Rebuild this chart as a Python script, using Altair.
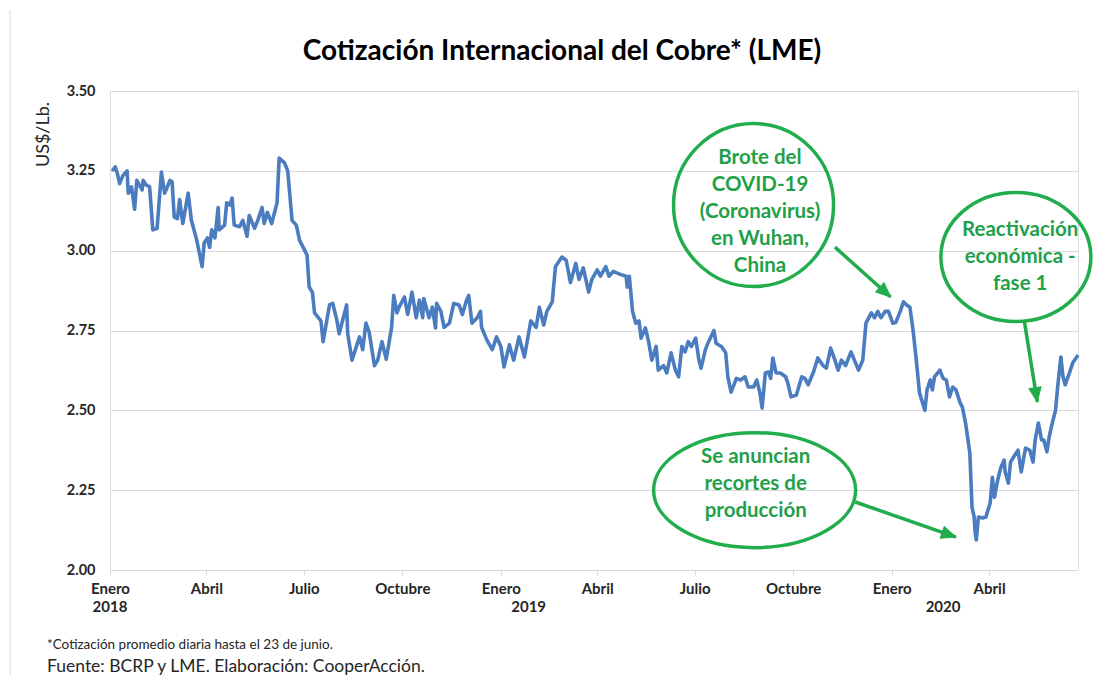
import altair as alt
import pandas as pd

# ---------------- data ----------------
dates = [
    "2018-01-03", "2018-01-06", "2018-01-08", "2018-01-10", "2018-01-13", "2018-01-17", "2018-01-18",
    "2018-01-21", "2018-01-24", "2018-01-26", "2018-01-31", "2018-02-01", "2018-02-04", "2018-02-07",
    "2018-02-10", "2018-02-14", "2018-02-18", "2018-02-21", "2018-02-26", "2018-02-28", "2018-03-02",
    "2018-03-05", "2018-03-07", "2018-03-10", "2018-03-15", "2018-03-18", "2018-03-23", "2018-03-28",
    "2018-03-30", "2018-04-02", "2018-04-04", "2018-04-06", "2018-04-09", "2018-04-12", "2018-04-13",
    "2018-04-18", "2018-04-20", "2018-04-23", "2018-04-25", "2018-04-27", "2018-05-02", "2018-05-05",
    "2018-05-09", "2018-05-11", "2018-05-16", "2018-05-19", "2018-05-23", "2018-05-25", "2018-05-28",
    "2018-06-01", "2018-06-06", "2018-06-08", "2018-06-13", "2018-06-16", "2018-06-20", "2018-06-24",
    "2018-06-27", "2018-07-04", "2018-07-06", "2018-07-09", "2018-07-11", "2018-07-17", "2018-07-19",
    "2018-07-25", "2018-07-28", "2018-08-01", "2018-08-03", "2018-08-10", "2018-08-11", "2018-08-15",
    "2018-08-22", "2018-08-25", "2018-08-28", "2018-08-31", "2018-09-05", "2018-09-08", "2018-09-12",
    "2018-09-16", "2018-09-21", "2018-09-23", "2018-09-26", "2018-09-28", "2018-10-03", "2018-10-06",
    "2018-10-10", "2018-10-14", "2018-10-17", "2018-10-20", "2018-10-21", "2018-10-26", "2018-10-29",
    "2018-11-01", "2018-11-02", "2018-11-06", "2018-11-09", "2018-11-14", "2018-11-18", "2018-11-23",
    "2018-11-26", "2018-11-30", "2018-12-02", "2018-12-05", "2018-12-10", "2018-12-13", "2018-12-14",
    "2018-12-19", "2018-12-24", "2018-12-28",
    "2019-01-01", "2019-01-04", "2019-01-09", "2019-01-13", "2019-01-18", "2019-01-23", "2019-01-29",
    "2019-02-03", "2019-02-06", "2019-02-10", "2019-02-13", "2019-02-18", "2019-02-21", "2019-02-24",
    "2019-02-27", "2019-03-03", "2019-03-07", "2019-03-12", "2019-03-15", "2019-03-19", "2019-03-24",
    "2019-03-27", "2019-04-01", "2019-04-04", "2019-04-09", "2019-04-12", "2019-04-16", "2019-04-23",
    "2019-04-28", "2019-04-29", "2019-05-01", "2019-05-04", "2019-05-07", "2019-05-10", "2019-05-12",
    "2019-05-16", "2019-05-19", "2019-05-22", "2019-05-26", "2019-05-28", "2019-06-02", "2019-06-05",
    "2019-06-09", "2019-06-13", "2019-06-16", "2019-06-19", "2019-06-22", "2019-06-25", "2019-06-28",
    "2019-07-02", "2019-07-05", "2019-07-07", "2019-07-11", "2019-07-14", "2019-07-19", "2019-07-21",
    "2019-07-26", "2019-07-30", "2019-08-01", "2019-08-04", "2019-08-09", "2019-08-13", "2019-08-17",
    "2019-08-20", "2019-08-25", "2019-08-28", "2019-08-31", "2019-09-02", "2019-09-05", "2019-09-08",
    "2019-09-10", "2019-09-12", "2019-09-15", "2019-09-19", "2019-09-24", "2019-09-26", "2019-09-29",
    "2019-10-04", "2019-10-09", "2019-10-12", "2019-10-15", "2019-10-20", "2019-10-24", "2019-10-29",
    "2019-11-01", "2019-11-05", "2019-11-09", "2019-11-12", "2019-11-15", "2019-11-19", "2019-11-24",
    "2019-11-28", "2019-12-01", "2019-12-05", "2019-12-08", "2019-12-13", "2019-12-16", "2019-12-19",
    "2019-12-22", "2019-12-26", "2019-12-29",
    "2020-01-02", "2020-01-05", "2020-01-09", "2020-01-12", "2020-01-15", "2020-01-18", "2020-01-21",
    "2020-01-24", "2020-01-27", "2020-02-01", "2020-02-03", "2020-02-06", "2020-02-08", "2020-02-10",
    "2020-02-15", "2020-02-18", "2020-02-21", "2020-02-24", "2020-02-27", "2020-03-01", "2020-03-05",
    "2020-03-07", "2020-03-10", "2020-03-14", "2020-03-16", "2020-03-18", "2020-03-19", "2020-03-20",
    "2020-03-22", "2020-03-26", "2020-03-29", "2020-04-02", "2020-04-04", "2020-04-06", "2020-04-09",
    "2020-04-12", "2020-04-15", "2020-04-16", "2020-04-19", "2020-04-21", "2020-04-25", "2020-04-28",
    "2020-05-01", "2020-05-05", "2020-05-09", "2020-05-12", "2020-05-14", "2020-05-17", "2020-05-20",
    "2020-05-22", "2020-05-25", "2020-05-27", "2020-05-30", "2020-06-02", "2020-06-04", "2020-06-07",
    "2020-06-09", "2020-06-11", "2020-06-15", "2020-06-18", "2020-06-23",
]
prices = [
    3.250, 3.262, 3.240, 3.210, 3.235, 3.250, 3.180,
    3.200, 3.130, 3.220, 3.190, 3.220, 3.205, 3.200,
    3.065, 3.070, 3.246, 3.180, 3.220, 3.215, 3.105,
    3.100, 3.160, 3.085, 3.180, 3.095, 3.033, 2.950,
    3.025, 3.040, 3.010, 3.065, 3.040, 3.135, 3.065,
    3.080, 3.150, 3.143, 3.165, 3.080, 3.075, 3.095,
    3.045, 3.110, 3.070, 3.095, 3.135, 3.085, 3.120,
    3.085, 3.150, 3.290, 3.275, 3.250, 3.095, 3.080,
    3.033, 2.986, 2.886, 2.870, 2.805, 2.780, 2.715,
    2.830, 2.835, 2.780, 2.740, 2.830, 2.740, 2.657,
    2.730, 2.690, 2.773, 2.745, 2.640, 2.657, 2.715,
    2.660, 2.760, 2.860, 2.805, 2.823, 2.855, 2.800,
    2.870, 2.790, 2.845, 2.790, 2.850, 2.790, 2.823,
    2.758, 2.835, 2.810, 2.760, 2.773, 2.835, 2.830,
    2.800, 2.845, 2.860, 2.773, 2.790, 2.810, 2.760,
    2.720, 2.690, 2.730,
    2.700, 2.636, 2.705, 2.657, 2.730, 2.667, 2.780,
    2.760, 2.823, 2.767, 2.810, 2.840, 2.950, 2.965,
    2.980, 2.970, 2.900, 2.960, 2.910, 2.946, 2.870,
    2.910, 2.940, 2.920, 2.950, 2.920, 2.935, 2.925,
    2.920, 2.886, 2.920, 2.810, 2.773, 2.780, 2.726,
    2.758, 2.715, 2.657, 2.700, 2.626, 2.640, 2.617,
    2.680, 2.626, 2.605, 2.700, 2.683, 2.715, 2.700,
    2.726, 2.657, 2.632, 2.690, 2.715, 2.750, 2.710,
    2.700, 2.680, 2.605, 2.557, 2.600, 2.595, 2.605,
    2.573, 2.573, 2.595, 2.554, 2.507, 2.617, 2.620,
    2.600, 2.664, 2.617, 2.617, 2.605, 2.585, 2.542,
    2.548, 2.605, 2.600, 2.580, 2.620, 2.664, 2.640,
    2.632, 2.695, 2.657, 2.626, 2.657, 2.640, 2.683,
    2.650, 2.626, 2.657, 2.773, 2.805, 2.790, 2.810,
    2.790, 2.810, 2.810,
    2.773, 2.776, 2.810, 2.840, 2.830, 2.823, 2.750,
    2.657, 2.554, 2.500, 2.564, 2.595, 2.564, 2.605,
    2.626, 2.600, 2.595, 2.542, 2.573, 2.564, 2.523,
    2.510, 2.460, 2.366, 2.197, 2.166, 2.116, 2.094,
    2.166, 2.163, 2.166, 2.210, 2.290, 2.228, 2.282,
    2.322, 2.344, 2.307, 2.272, 2.338, 2.360, 2.375,
    2.307, 2.382, 2.375, 2.338, 2.407, 2.460, 2.407,
    2.407, 2.370, 2.416, 2.460, 2.500, 2.573, 2.667,
    2.605, 2.580, 2.617, 2.648, 2.673,
]

month_names = ["Enero", "", "", "Abril", "", "", "Julio", "", "", "Octubre", "", ""]
year_labels = ["2018", "2019", "2020"]
year_dates = ["2018-01-01", "2019-01-27", "2020-02-18"]

ann_texts = [
    "Brote del\nCOVID-19\n(Coronavirus)\nen Wuhan,\nChina",
    "Reactivación\neconómica -\nfase 1",
    "Se anuncian\nrecortes de\nproducción",
]
# anchor of the first line of each annotation
ann_text_dates = ["2019-08-31", "2020-04-30", "2019-08-27"]
ann_text_values = [3.290, 3.065, 2.354]

ellipse_dates = ["2019-08-25", "2020-04-26", "2019-08-26"]
ellipse_values = [3.143, 2.980, 2.250]
ellipse_w = [160, 150, 202]
ellipse_h = [163, 129, 115]

arrow_start_dates = ["2019-11-09", "2020-05-04", "2019-11-28"]
arrow_start_values = [3.011, 2.777, 2.213]
arrow_end_dates = ["2019-12-31", "2020-05-16", "2020-03-01"]
arrow_end_values = [2.855, 2.526, 2.103]
arrow_angles = [131.8, 170.8, 109.1]

title_text = "Cotización Internacional del Cobre* (LME)"
note_text = "*Cotización promedio diaria hasta el 23 de junio."
source_text = "Fuente:  BCRP y LME. Elaboración: CooperAcción."

# ---------------- styling ----------------
FONT = "Lato"
BLUE = "#4a7cbf"
GREEN = "#22ad4c"
GREEN_TXT = "#1fa049"
GRID = "#d9d9d9"
W, H = 968, 479


def ellipse_path(ratio):
    k = 0.5523
    r = ratio
    return (
        f"M 1 0 C 1 {k*r:.4f} {k:.4f} {r:.4f} 0 {r:.4f} "
        f"C {-k:.4f} {r:.4f} -1 {k*r:.4f} -1 0 "
        f"C -1 {-k*r:.4f} {-k:.4f} {-r:.4f} 0 {-r:.4f} "
        f"C {k:.4f} {-r:.4f} 1 {-k*r:.4f} 1 0 Z"
    )


ARROW_HEAD = "M 0 0 L 0.85 2 L -0.85 2 Z"

xscale = alt.Scale(
    type="utc",
    domain=[alt.DateTime(year=2018, month=1, date=1, utc=True),
            alt.DateTime(year=2020, month=6, date=23, utc=True)],
)
yscale = alt.Scale(domain=[2.0, 3.5], nice=False, zero=False)

tick_values = [alt.DateTime(year=y, month=m, date=1, utc=True)
               for y in (2018, 2019, 2020) for m in (1, 4, 7, 10)
               if not (y == 2020 and m > 4)]
label_expr = "[" + ",".join(f"'{m}'" for m in month_names) + "][utcmonth(datum.value)]"

df = pd.DataFrame({"date": dates, "price": prices})

line = alt.Chart(df).mark_line(color=BLUE, strokeWidth=3.6, strokeJoin="round").encode(
    x=alt.X("date:T", scale=xscale, title=None,
            axis=alt.Axis(values=tick_values, labelExpr=label_expr, labelFlush=False,
                          labelOverlap=False, grid=False, domainColor=GRID, tickColor=GRID,
                          tickSize=5, labelPadding=6, labelFont=FONT, labelFontSize=15,
                          labelFontWeight="bold", labelColor="#262626")),
    y=alt.Y("price:Q", scale=yscale,
            axis=alt.Axis(values=[2.0, 2.25, 2.5, 2.75, 3.0, 3.25, 3.5], format=".2f",
                          domain=False, ticks=False, grid=True, gridColor=GRID,
                          labelPadding=15, labelFont=FONT, labelFontSize=14.5,
                          labelFontWeight="bold", labelColor="#262626",
                          title="US$/Lb.", titleFont=FONT, titleFontSize=18,
                          titleFontWeight="normal", titleColor="#262626",
                          titleAngle=-90, titleX=-67, titleY=43,
                          titleAlign="center", titleBaseline="middle")),
)

years_df = pd.DataFrame({"date": year_dates, "label": year_labels})
years = alt.Chart(years_df).mark_text(
    font=FONT, fontSize=15, fontWeight="bold", color="#262626", baseline="middle", align="center"
).encode(x=alt.X("date:T", scale=xscale), y=alt.value(H + 37), text="label:N")

ell_df = pd.DataFrame({
    "date": ellipse_dates, "value": ellipse_values,
    "size": [w * w for w in ellipse_w],
    "shape": [ellipse_path(h / w) for w, h in zip(ellipse_w, ellipse_h)],
})
ellipses = alt.Chart(ell_df).mark_point(
    filled=False, stroke=GREEN, strokeWidth=3.5, opacity=1
).encode(
    x=alt.X("date:T", scale=xscale), y=alt.Y("value:Q", scale=yscale),
    size=alt.Size("size:Q", scale=None, legend=None),
    shape=alt.Shape("shape:N", scale=None, legend=None),
)

txt_df = pd.DataFrame({"date": ann_text_dates, "value": ann_text_values, "text": ann_texts})
ann_text = alt.Chart(txt_df).mark_text(
    font=FONT, fontSize=20.5, fontWeight="bold", color=GREEN_TXT, lineBreak="\n",
    lineHeight=27, align="center", baseline="middle"
).encode(x=alt.X("date:T", scale=xscale), y=alt.Y("value:Q", scale=yscale), text="text:N")

arr_df = pd.DataFrame({
    "date": arrow_start_dates, "value": arrow_start_values,
    "date2": arrow_end_dates, "value2": arrow_end_values,
    "angle": arrow_angles,
})
arrow_lines = alt.Chart(arr_df).mark_rule(color=GREEN, strokeWidth=3.5).encode(
    x=alt.X("date:T", scale=xscale), y=alt.Y("value:Q", scale=yscale),
    x2="date2:T", y2="value2:Q",
)
arrow_heads = alt.Chart(arr_df).mark_point(
    filled=True, fill=GREEN, stroke=GREEN, strokeWidth=1, opacity=1, shape=ARROW_HEAD, size=210
).encode(
    x=alt.X("date2:T", scale=xscale), y=alt.Y("value2:Q", scale=yscale),
    angle=alt.Angle("angle:Q", scale=None),
)

one = alt.Data(values=[{}])
title = alt.Chart(one).mark_text(
    text=title_text, font=FONT, fontSize=28, fontWeight="bold", color="#000000",
    align="center", baseline="middle"
).encode(x=alt.value(452), y=alt.value(-39))
note = alt.Chart(one).mark_text(
    text=note_text, font=FONT, fontSize=13.5, color="#262626", align="left", baseline="middle"
).encode(x=alt.value(-63), y=alt.value(554))
source = alt.Chart(one).mark_text(
    text=source_text, font=FONT, fontSize=17.5, color="#262626", align="left", baseline="middle"
).encode(x=alt.value(-63), y=alt.value(576))
border = alt.Chart(one).mark_rule(color=GRID, strokeWidth=1).encode(
    x=alt.value(-100), y=alt.value(-81), y2=alt.value(H + 110)
)

chart = alt.layer(
    border, line, years, ellipses, ann_text, arrow_lines, arrow_heads, title, note, source
).properties(
    width=W, height=H,
    autosize=alt.AutoSizeParams(type="none"),
    padding={"left": 102, "top": 83, "right": 16, "bottom": 105},
).configure_view(stroke="transparent").configure(background="white")

chart.save("out.html", embed_options={"renderer": "svg", "actions": False})
